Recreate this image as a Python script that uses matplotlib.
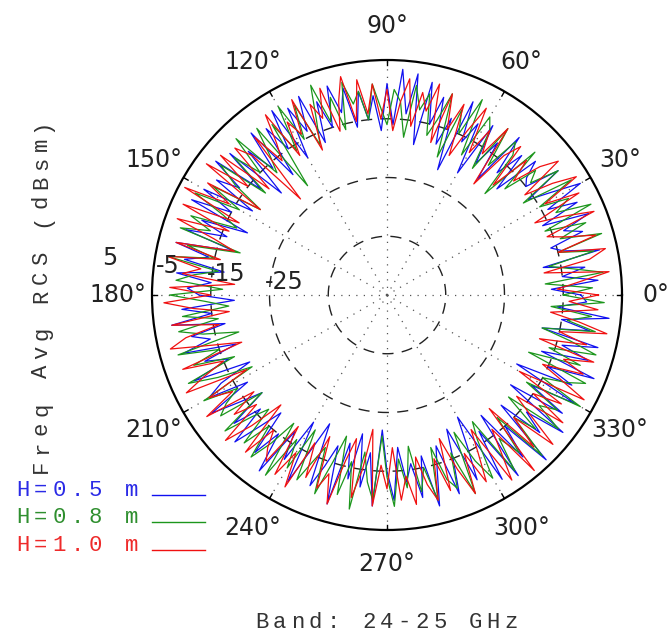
import numpy as np
import matplotlib
matplotlib.use("Agg")
from matplotlib import pyplot as plt

W, H = 669, 635

# azimuth in degrees, 2 deg steps
angle_deg = list(range(0, 360, 2))

rcs_h05 = [
    -2, -7, 1, -5, -1, -8, 2, -4, -6, 0,
    -3, 2, -6, 1, -4, 3, -2, -6, 1, -5,
    -4, -1, -9, -2, -7, 0, -10, -3, -8, -1,
    -11, -2, -6, 1, -12, -3, -8, 0, -5, 2,
    -9, 3, -4, 3.5, -6, 1, -7, -1, -5, 0,
    -6, 1, -3, 2, -5, 0, -7, 2, -4, 1,
    -8, 2, -5, 0, -9, 1, -6, -1, -10, 1,
    -7, 2, -4, 0, -8, 1, -5, 2, -9, -1,
    -6, 1, -8, 2, -4, 0, -7, 1, -5, -1,
    -3, -9, 0, -5, 2, -7, -1, -4, 1, -8,
    -2, -6, 1, -9, -3, 0, -7, 1, -4, -8,
    -1, -6, 1, -4, -8, 0, -5, 2, -7, -2,
    -10, 1, -6, -11, 0, -4, -8, 2, -9, -3,
    -11, -2, -8, 1, -12, -5, 0, -9, -3, -6,
    0, -7, 2, -4, -8, 1, -5, -10, 0, -6,
    -11, 2, -7, 3, -9, 1, -5, 4, -8, 0,
    -4, 3, -9, 1, -6, 2, -10, 0, -5, 3,
    -7, 1, -4, 2, -8, 0, -5, 3, -6, -1,
]

rcs_h08 = [
    -5, 0, -8, 2, -3, -7, 1, -5, 3, -4,
    1, -6, 3, -3, 0, -5, 2, -7, 1, -4,
    -2, -8, 0, -11, -3, -1, -7, 0, -9, -2,
    0, -8, 2, -5, -1, -10, 1, -4, -7, 0,
    -3, 1, -8, -2, 0, -6, -3, 1, -5, 0,
    -2, 2, -6, 0, -4, 3, -3, -7, 1, -5,
    2, -6, 0, -12, 1, -4, -7, 2, -5, 0,
    -8, 1, -3, -9, 0, -6, 2, -4, -7, 1,
    -3, 2, -9, 0, -5, 3, -6, -2, 1, -7,
    2, -4, -8, 0, -6, 1, -3, -9, 2, -5,
    0, -7, 2, -3, -9, 1, -5, -2, 0, -8,
    1, -4, -7, 0, -5, 1, -3, -8, 2, -6,
    -1, -9, 0, -4, -7, 1, -5, -10, 0, -6,
    2, -8, -3, 0, -11, -4, 1, -7, -2, -9,
    -1, -5, 1, -8, -2, 0, -6, 2, -9, -3,
    1, -6, -9, 2, -4, 0, -7, 3, -5, -1,
    -8, 2, -3, 0, -7, 3, -5, -1, 2, -9,
    0, -6, 2, -3, -8, 1, -4, 0, -7, 2,
]

rcs_h10 = [
    1, -6, -2, 3, -8, 0, 3, -5, 2, -3,
    -6, 3, -2, -7, 2, -4, 3, -1, -6, 2,
    -1, -6, -2, -9, -1, -4, -11, 0, -6, -2,
    -7, 1, -4, -9, 0, -5, 1, -8, 2, -3,
    0, -6, 2, -2, -7, 0, -5, 1, -4, 2,
    -5, 3, -1, -6, 2, -3, 0, -8, 2, -4,
    -1, -7, 2, -3, -6, 0, -13, -2, 1, -8,
    2, -5, 3, -9, 1, -4, 4, -7, 3, -6,
    3, -4, -8, 2, -6, 3, -3, 0, -9, 2,
    -5, 3, -2, -8, 2, -6, 0, 3, -4, -9,
    2, -5, -1, 3, -8, 0, -4, 2, -7, -2,
    -6, 2, -3, -9, 1, -5, -2, 0, -8, 1,
    -4, 2, -7, -1, -9, 0, -3, 2, -6, -10,
    0, -5, -12, 1, -6, -2, -9, 0, -4, 1,
    -7, -2, 1, -6, 0, -9, -3, 2, -5, 1,
    -4, -8, 3, -2, -6, 4, -9, 1, -5, 3,
    -3, -7, 2, -5, 0, -9, 3, -2, -6, 1,
    -3, 2, -8, 0, -5, 3, -2, -7, 1, -4,
]

series_labels = ["H=0.5 m", "H=0.8 m", "H=1.0 m"]
series_colors = ["#1010f0", "#1c961c", "#f01010"]
text_colors = ["#2a2ae6", "#2f8f2f", "#ee2a2a"]

r_min, r_max = -35, 5
r_ticks = [-25, -15, -5, 5]
theta_ticks = list(range(0, 360, 30))

fig = plt.figure(figsize=(W / 100, H / 100), dpi=100)
ax = fig.add_axes([152 / W, 1 - 530 / H, 470 / W, 470 / H], projection="polar")
ax.set_rlim(r_min, r_max)
ax.grid(False)
ax.set_xticks([])
ax.set_yticks([])
ax.spines["polar"].set_linewidth(1.6)
ax.spines["polar"].set_color("black")

# grid: dashed rings, dotted spokes, small ticks on the rim
ring = np.linspace(0, 2 * np.pi, 400)
for rv in r_ticks[:-1]:
    ax.plot(ring, np.full_like(ring, rv), color="#222222", lw=1.0,
            dashes=(8, 6), zorder=1)
for t in theta_ticks:
    th = np.deg2rad(t)
    ax.plot([th, th], [r_min, r_max], color="#555555", lw=0.9,
            linestyle=(0, (1, 5)), zorder=1)
    ax.plot([th, th], [r_max - 0.9, r_max], color="black", lw=1.0, zorder=3)

# data
theta = np.deg2rad(np.append(angle_deg, 360))
for vals, c in zip([rcs_h05, rcs_h08, rcs_h10], series_colors):
    v = np.append(vals, vals[0])
    ax.plot(theta, v, color=c, lw=0.9, zorder=2)

# angle labels
for t in theta_ticks:
    ax.text(np.deg2rad(t), 10.8, f"{t}°", ha="center", va="center",
            fontsize=17, family="DejaVu Sans", color="#222222")

# radial labels (placed like the original, along ~172 deg)
for rv in r_ticks:
    ax.text(np.deg2rad(172.5), rv + 7.6, f"{rv}", ha="center", va="center",
            fontsize=17, family="DejaVu Sans", color="#222222")


def spaced(x0, y0, s, color, pitch, vertical=False):
    # monospace text with wide letter spacing, positions in pixels
    for i, ch in enumerate(s):
        if ch == " ":
            continue
        if vertical:
            fig.text(x0 / W, 1 - (y0 - i * pitch) / H, ch, rotation=90,
                     rotation_mode="anchor", ha="center", va="baseline",
                     fontsize=16, family="Liberation Mono", color=color)
        else:
            fig.text((x0 + i * pitch) / W, 1 - y0 / H, ch, ha="center",
                     va="baseline", fontsize=16, family="Liberation Mono",
                     color=color)


# legend
rows_y = [496, 523, 551]
for lab, lc, tc, y in zip(series_labels, series_colors, text_colors, rows_y):
    spaced(22.5, y, lab, tc, 18.2)
    fig.add_artist(plt.Line2D([152 / W, 205 / W], [1 - (y - 1) / H] * 2,
                              color=lc, lw=1.0))

spaced(47, 466, "Freq Avg RCS (dBsm)", "#333333", 18.9, vertical=True)
spaced(262, 628, "Band: 24-25 GHz", "#333333", 17.8)

fig.savefig("out.png", dpi=100)
